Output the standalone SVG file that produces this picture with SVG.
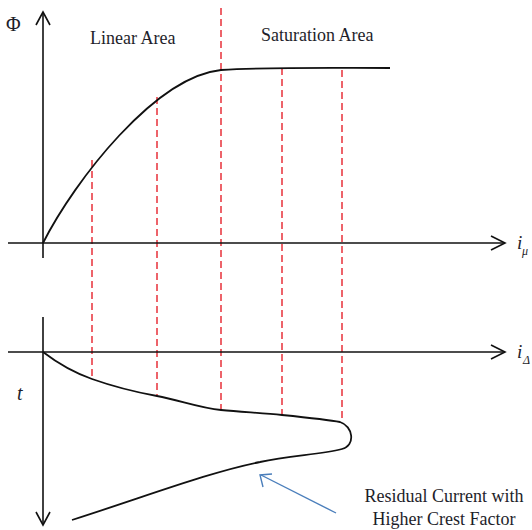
<svg xmlns="http://www.w3.org/2000/svg" width="532" height="530" viewBox="0 0 532 530">
<style>
.ax{stroke:#111;stroke-width:1.6;fill:none}
.cv{stroke:#111;stroke-width:1.8;fill:none}
.dash{stroke:#e8303a;stroke-width:1.5;stroke-dasharray:7,4;fill:none}
.t{font-family:"Liberation Serif",serif;font-size:18px;fill:#1e1e2a}
.ti{font-family:"Liberation Serif",serif;font-style:italic;fill:#1e1e2a}
</style>
<rect width="532" height="530" fill="#fff"/>
<g id="connectors">
<g id="guides">
<line class="dash" x1="92" y1="160" x2="92" y2="380"/>
<line class="dash" x1="157" y1="97" x2="157" y2="395"/>
<line class="dash" x1="221" y1="8" x2="221" y2="410"/>
<line class="dash" x1="282" y1="68" x2="282" y2="415"/>
<line class="dash" x1="342" y1="70" x2="342" y2="422"/>
</g>
<g id="top-axes">
<line class="ax" x1="43" y1="12" x2="43" y2="258"/>
<polyline class="ax" points="36,25 43,12 50,25"/>
<line class="ax" x1="8" y1="243" x2="505" y2="243"/>
<polyline class="ax" points="491,236 505,243 491,250"/>
</g>
<g id="bottom-axes">
<line class="ax" x1="43" y1="317" x2="43" y2="525"/>
<polyline class="ax" points="36,512 43,525 50,512"/>
<line class="ax" x1="8" y1="352" x2="505" y2="352"/>
<polyline class="ax" points="491,345 505,352 491,359"/>
</g>
<path class="cv" d="M43,243 C75,180 155,77 221,70 C270,67 330,68 390,68"/>
<path class="cv" d="M43,352 C60,365 75,373 92,379 S135,392 157,396 S200,408 221,410 S262,413 282,415 S330,420 340,422 C353,426 356,445 342,449 C320,455 290,455 260,462 C210,472 150,495 72,520"/>
<g id="pointer">
<line x1="336" y1="513" x2="261" y2="475" stroke="#4a7ebb" stroke-width="1.4"/>
<polyline points="263,487 260,475 272,474" stroke="#4a7ebb" stroke-width="1.4" fill="none"/>
</g>
</g>
<g id="labels">
<text class="t" x="6" y="31" style="font-size:20px">Φ</text>
<text class="t" x="90" y="44">Linear Area</text>
<text class="t" x="261" y="41">Saturation Area</text>
<text class="ti" x="517" y="249" font-size="19">i</text>
<text class="ti" x="522" y="255" font-size="12" font-style="normal">μ</text>
<text class="ti" x="517" y="358" font-size="19">i</text>
<text class="ti" x="523" y="364" font-size="12">Δ</text>
<text class="ti" x="17" y="400" font-size="20">t</text>
<text class="t" x="444" y="502" text-anchor="middle">Residual Current with</text>
<text class="t" x="444" y="525" text-anchor="middle">Higher Crest Factor</text>
</g>
</svg>
